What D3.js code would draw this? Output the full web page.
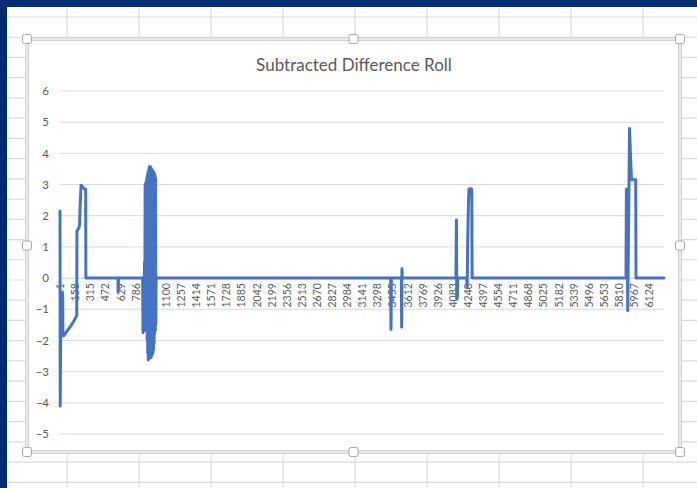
<!DOCTYPE html>
<html>
<head>
<meta charset="utf-8">
<script src="https://cdn.jsdelivr.net/npm/d3@7"></script>
<style>
  body { margin: 0; background: #fff; overflow: hidden; }
  svg { display: block; }
</style>
</head>
<body>
<svg id="chart" width="697" height="488"></svg>
<script>
// ---- data ----
const chartTitle = "Subtracted Difference Roll";
const categoryCount = 6280;
const yTicks = [6, 5, 4, 3, 2, 1, 0, -1, -2, -3, -4, -5];
const xTickLabels = ["1", "158", "315", "472", "629", "786", "943", "1100", "1257", "1414",
    "1571", "1728", "1885", "2042", "2199", "2356", "2513", "2670", "2827", "2984",
    "3141", "3298", "3455", "3612", "3769", "3926", "4083", "4240", "4397", "4554",
    "4711", "4868", "5025", "5182", "5339", "5496", "5653", "5810", "5967", "6124"];

// [category index, value]
const startSegment = [
    [1, 2.15], [3, -4.1], [8, -1.9], [22, -1.85], [25, -0.45], [27, -1.1], [29, -0.5],
    [31, -1.85], [40, -1.85], [70, -1.72], [110, -1.55], [150, -1.35], [175, -1.2],
    [177, 1.5], [195, 1.6], [205, 1.7], [210, 2.3], [215, 2.6], [220, 2.98], [230, 2.95],
    [245, 2.88], [262, 2.85], [268, 2.85], [270, 0]];
const dipSegment = [[603, 0], [606, -0.45], [609, 0]];
const block943 = [
    [860, 0], [864, -1.75], [868, 0], [874, -1.7], [879, 0.5], [883, -1.2],
    [886, 3.0], [889, -1.3], [892, 3.05], [895, -1.5], [898, 3.1], [901, -1.7],
    [904, 3.2], [907, -2.0], [910, 3.3], [913, -2.4], [916, 3.4], [919, -2.63],
    [922, 3.45], [925, -2.6], [928, 3.55], [931, -2.45], [934, 3.58], [937, -2.5],
    [940, 3.57], [943, -2.5], [946, 3.55], [949, -2.55], [952, 3.5], [955, -2.5],
    [958, 3.48], [961, -2.45], [964, 3.45], [967, -2.4], [970, 3.42], [973, -2.3],
    [976, 3.4], [979, -2.1], [982, 3.35], [985, -1.8], [988, 3.3], [991, -1.7],
    [994, 3.2], [997, -1.5], [1000, 0]];
const segment3455 = [
    [3438, 0], [3442, -1.65], [3446, 0], [3550, 0], [3553, -1.58], [3556, 0.3], [3559, 0]];
const segment4083 = [
    [4117, 0], [4122, 1.86], [4126, -0.68], [4132, -0.6], [4136, 0], [4228, 0], [4234, -0.3],
    [4240, 1.3], [4246, 2.2], [4252, 2.85], [4270, 2.87], [4282, 2.85], [4285, 0]];
const segment5810 = [
    [5885, 0], [5889, 2.85], [5897, 2.85], [5903, -1.05], [5922, 4.8], [5932, 3.9],
    [5942, 3.2], [5946, 3.15], [5986, 3.15], [5989, 0], [categoryCount, 0]];

const seriesData = [].concat(startSegment, dipSegment, block943, segment3455, segment4083, segment5810);

// ---- drawing ----
const svg = d3.select("#chart");
const W = 697, H = 488;
const sheetGrey = "#dadada";
const textGrey = "#595959";

// spreadsheet behind the chart
svg.append("rect").attr("width", W).attr("height", H).attr("fill", "#fff");
const rowLines = d3.range(0, 24).map(k => 17 + k * 20.23);
svg.selectAll(".row-line").data(rowLines).enter().append("line")
    .attr("x1", 7).attr("x2", W)
    .attr("y1", d => d).attr("y2", d => d)
    .attr("stroke", sheetGrey).attr("stroke-width", 1.2);
const colLines = d3.range(0, 9).map(k => 67 + k * 72);
svg.selectAll(".col-line").data(colLines).enter().append("line")
    .attr("x1", d => d).attr("x2", d => d)
    .attr("y1", 7).attr("y2", H)
    .attr("stroke", sheetGrey).attr("stroke-width", 1.2);
svg.append("rect").attr("x", 0).attr("y", 0).attr("width", W).attr("height", 7).attr("fill", "#002d72");
svg.append("rect").attr("x", 0).attr("y", 0).attr("width", 7).attr("height", H).attr("fill", "#002d72");

// chart frame
const frame = { left: 27, top: 39, right: 680, bottom: 452 };
svg.append("rect")
    .attr("x", frame.left).attr("y", frame.top)
    .attr("width", frame.right - frame.left).attr("height", frame.bottom - frame.top)
    .attr("fill", "#fff").attr("stroke", "#d2d2d2").attr("stroke-width", 4);
svg.append("rect")
    .attr("x", frame.left).attr("y", frame.top)
    .attr("width", frame.right - frame.left).attr("height", frame.bottom - frame.top)
    .attr("fill", "none").attr("stroke", "#fff").attr("stroke-width", 1);

// title
svg.append("text")
    .attr("x", 354).attr("y", 71)
    .attr("text-anchor", "middle")
    .attr("font-family", "Lato, 'Open Sans', sans-serif")
    .attr("font-size", 17)
    .attr("fill", textGrey)
    .text(chartTitle);

// scales
const x = d3.scaleLinear().domain([1, categoryCount]).range([60, 664]);
const y = d3.scaleLinear().domain([-5, 6]).range([434, 91]);

// gridlines
const g = svg.append("g");
g.selectAll(".grid").data(yTicks).enter().append("line")
    .attr("x1", 59).attr("x2", 664)
    .attr("y1", d => y(d)).attr("y2", d => y(d))
    .attr("stroke", "#d9d9d9").attr("stroke-width", 1);

// y axis labels
const yAxis = g.append("g")
    .attr("transform", "translate(49,0)")
    .call(d3.axisLeft(y).tickValues(yTicks).tickSize(0).tickPadding(0).tickFormat(d3.format("d")));
yAxis.select(".domain").remove();
yAxis.selectAll("text")
    .attr("font-family", "Lato, 'Open Sans', sans-serif")
    .attr("font-size", 11.5)
    .attr("fill", textGrey);

// x axis at zero, labels rotated
const xTickValues = xTickLabels.map(Number);
const xAxis = g.append("g")
    .attr("transform", `translate(0,${y(0)})`)
    .call(d3.axisBottom(x).tickValues(xTickValues).tickSize(0).tickFormat((d, i) => xTickLabels[i]));
xAxis.select(".domain").attr("stroke", "#d9d9d9");
xAxis.selectAll("text")
    .attr("font-family", "Lato, 'Open Sans', sans-serif")
    .attr("font-size", 10.5)
    .attr("fill", textGrey)
    .attr("text-anchor", "end")
    .attr("transform", "rotate(-90)")
    .attr("x", -5)
    .attr("y", 0)
    .attr("dy", "0.35em");

// the series line
const line = d3.line()
    .x(d => x(d[0]))
    .y(d => y(d[1]));
g.append("path")
    .datum(seriesData)
    .attr("fill", "none")
    .attr("stroke", "#4472c4")
    .attr("stroke-width", 3)
    .attr("stroke-linejoin", "round")
    .attr("stroke-linecap", "round")
    .attr("d", line);

// selection handles
const midX = (frame.left + frame.right) / 2, midY = (frame.top + frame.bottom) / 2;
const handles = [
    [frame.left, frame.top], [midX, frame.top], [frame.right, frame.top],
    [frame.left, midY], [frame.right, midY],
    [frame.left, frame.bottom], [midX, frame.bottom], [frame.right, frame.bottom]];
svg.selectAll(".handle").data(handles).enter().append("rect")
    .attr("x", d => d[0] - 4.5).attr("y", d => d[1] - 4.5)
    .attr("width", 9).attr("height", 9).attr("rx", 2)
    .attr("fill", "#fff").attr("stroke", "#a6a6a6").attr("stroke-width", 1);
</script>
</body>
</html>
